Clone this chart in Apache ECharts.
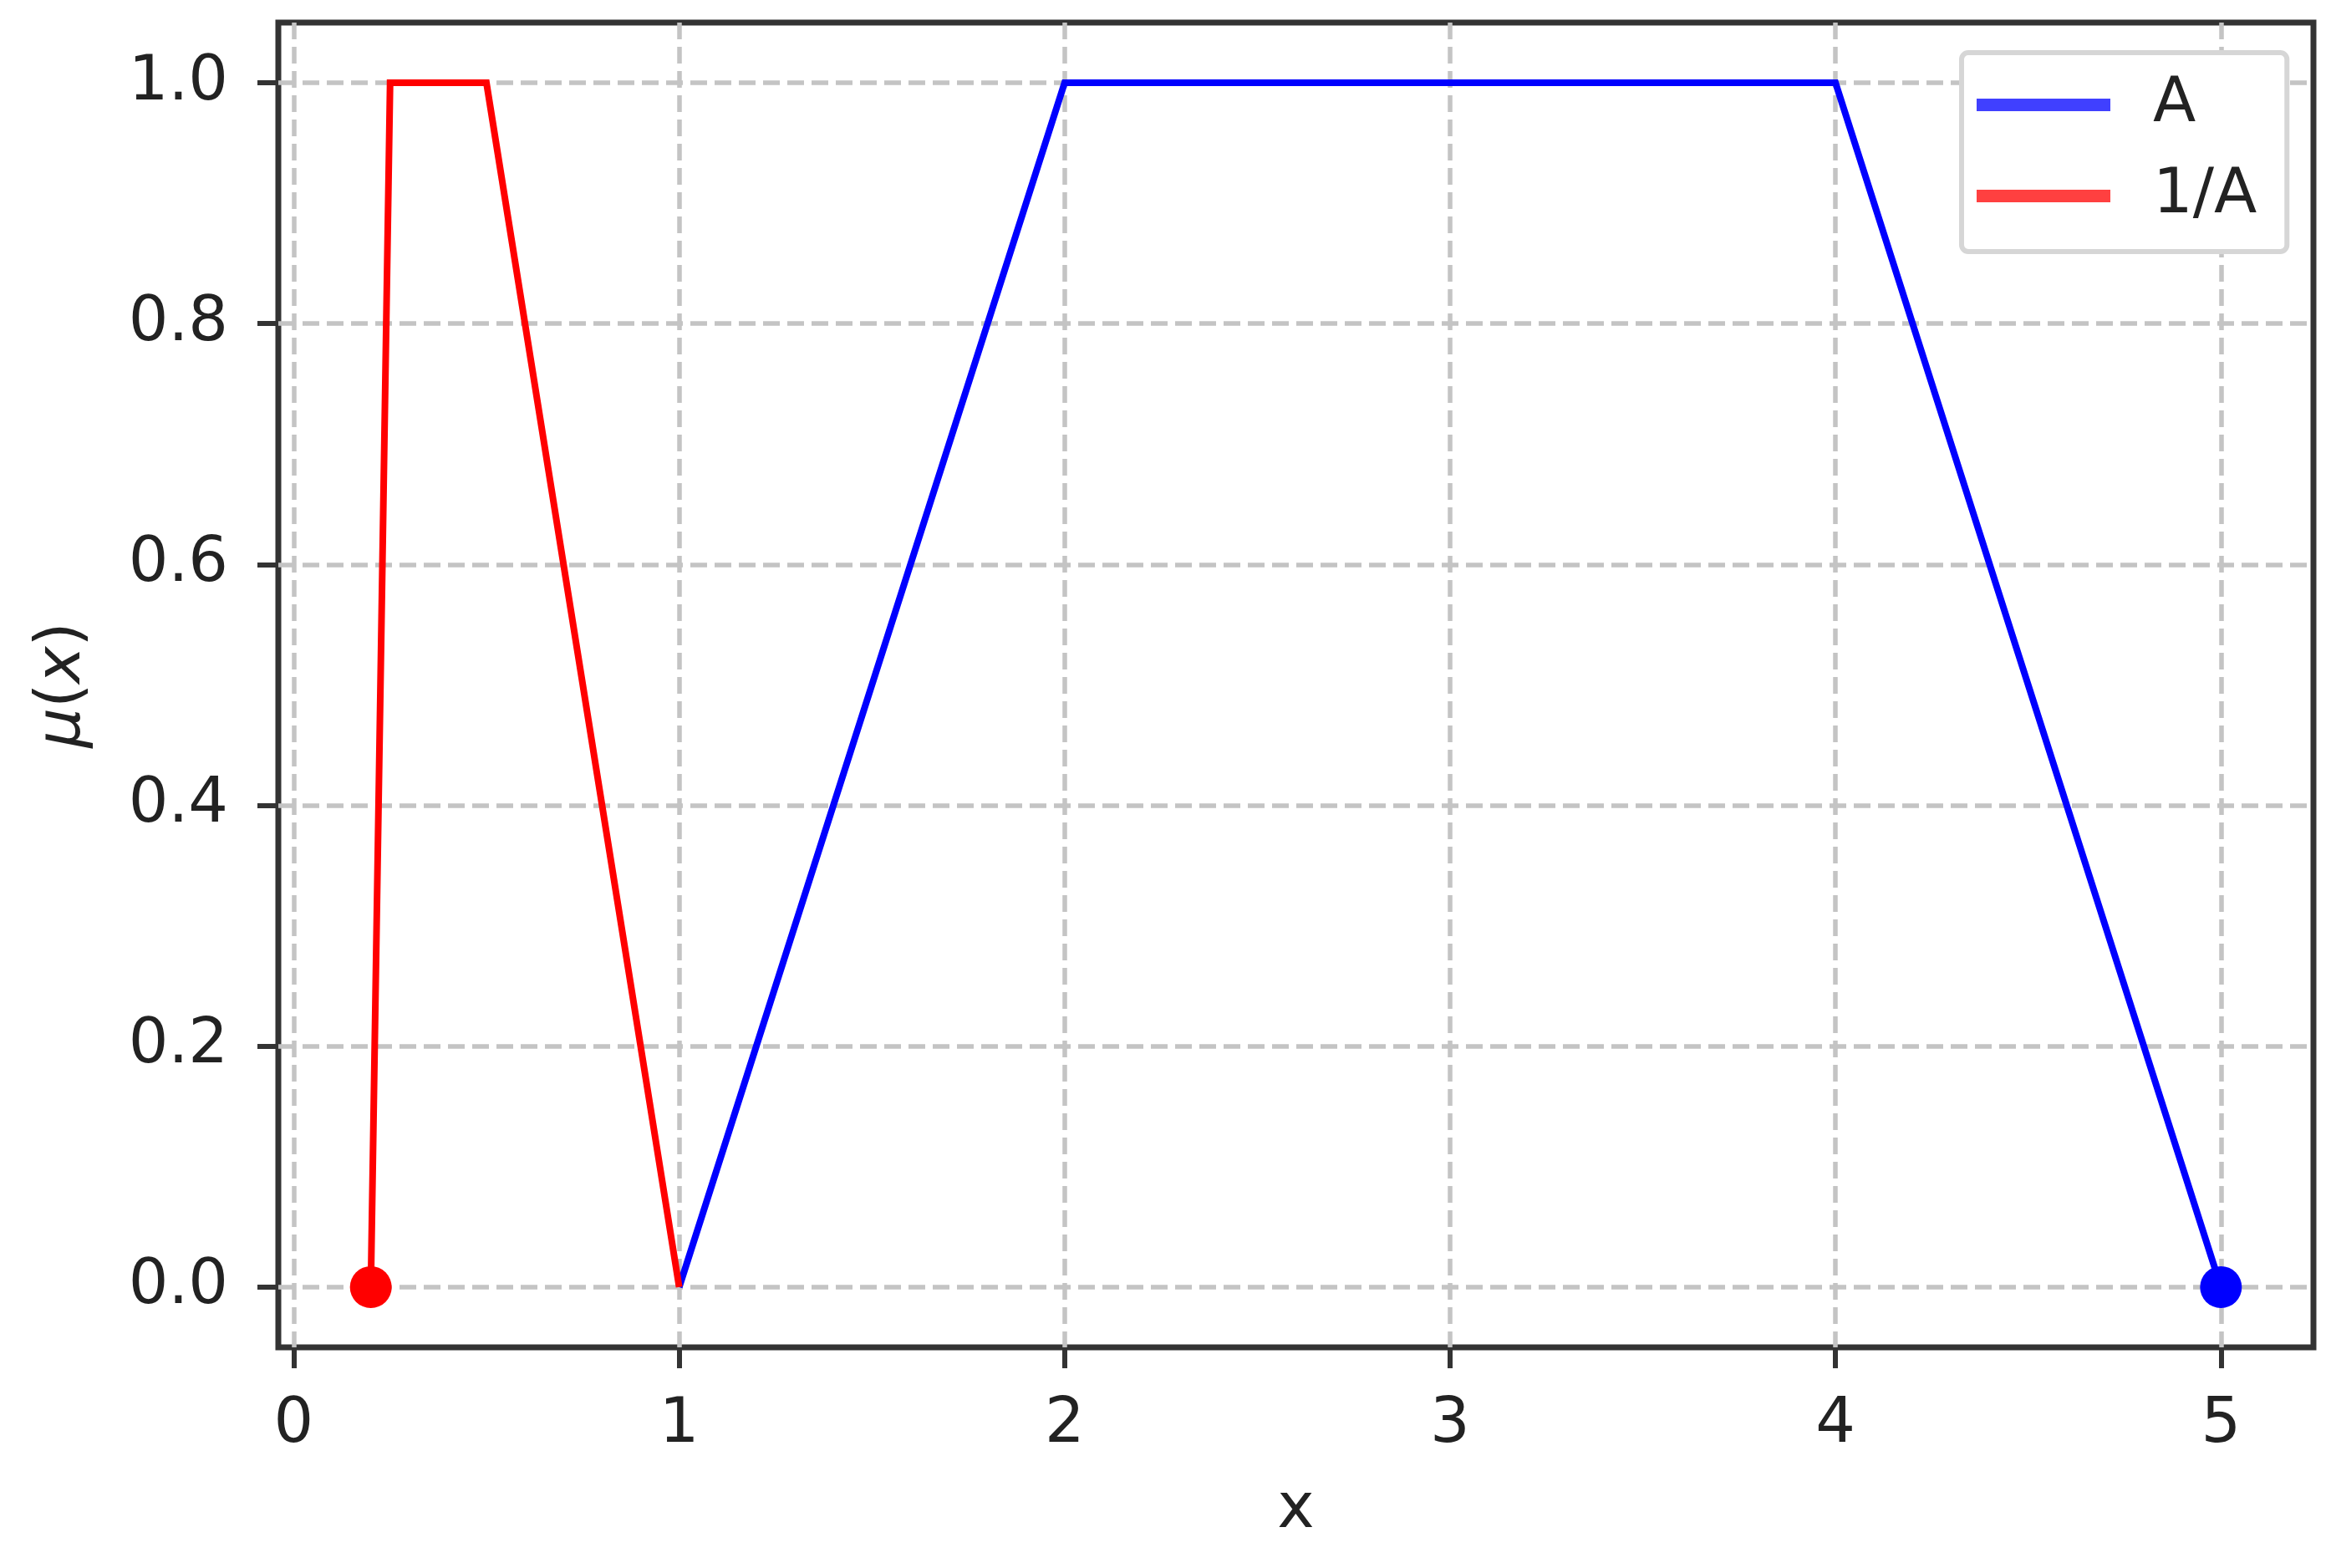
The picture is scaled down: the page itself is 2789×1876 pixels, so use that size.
<!DOCTYPE html>
<html>
<head>
<meta charset="utf-8">
<script src="https://cdn.jsdelivr.net/npm/echarts@6/dist/echarts.min.js"></script>
<style>
  html, body { margin: 0; padding: 0; background: #fff; }
  #chart { width: 2789px; height: 1876px; }
</style>
</head>
<body>
<div id="chart"></div>
<script>
// membership function A (trapezoid) and its inverse 1/A
var xA = [1, 2, 4, 5];
var muA = [0, 1, 1, 0];
var xInvA = [0.2, 0.25, 0.5, 1];
var muInvA = [0, 1, 1, 0];
// end markers
var dotA = [5, 0];
var dotInvA = [0.2, 0];

var xTicks = [0, 1, 2, 3, 4, 5];
var yTicks = [0, 0.2, 0.4, 0.6, 0.8, 1.0];

var FONT = "DejaVu Sans";
var FS = 75;

function pairs(xs, ys) {
  var out = [];
  for (var i = 0; i < xs.length; i++) out.push([xs[i], ys[i]]);
  return out;
}

var chart = echarts.init(document.getElementById("chart"));

var gridLine = { color: "#c4c4c4", width: 5.5, type: [20, 9] };

var option = {
  animation: false,
  textStyle: { fontFamily: FONT, color: "#222" },
  grid: {
    left: 333, top: 27, width: 2435, height: 1585,
    show: true, borderColor: "#333", borderWidth: 7, backgroundColor: "transparent"
  },
  legend: {
    orient: "vertical",
    left: 2347, top: 63,
    padding: [25, 36, 29, 18],
    borderColor: "#d6d6d6", borderWidth: 6, borderRadius: 8,
    backgroundColor: "#fff",
    icon: "rect",
    itemWidth: 160, itemHeight: 15, itemGap: 34,
    textStyle: { fontFamily: FONT, fontSize: FS, color: "#222", padding: [8, 0, 0, 46] },
    data: [
      { name: "A", itemStyle: { color: "#4040ff" } },
      { name: "1/A", itemStyle: { color: "#ff4040" } }
    ]
  },
  xAxis: {
    type: "value",
    min: -0.04, max: 5.24,
    name: "x", nameLocation: "middle", nameGap: 158,
    nameTextStyle: { fontFamily: FONT, fontSize: FS, color: "#222" },
    axisLine: { show: false, onZero: false },
    axisTick: { show: true, length: 25, lineStyle: { color: "#333", width: 6 }, customValues: xTicks },
    axisLabel: { fontFamily: FONT, fontSize: FS, color: "#222", margin: 56, customValues: xTicks,
      formatter: function (v) { return String(v); } },
    splitLine: { show: true, lineStyle: gridLine }
  },
  yAxis: {
    type: "value",
    min: -0.05, max: 1.05,
    name: "{i|μ}({i|x})", nameLocation: "middle", nameGap: 220,
    nameTextStyle: { fontFamily: FONT, fontSize: FS, color: "#222",
      rich: { i: { fontFamily: FONT, fontSize: FS, fontStyle: "italic", color: "#222" } } },
    axisLine: { show: false, onZero: false },
    axisTick: { show: true, length: 25, lineStyle: { color: "#333", width: 6 }, customValues: yTicks },
    axisLabel: { fontFamily: FONT, fontSize: FS, color: "#222", margin: 60, customValues: yTicks,
      formatter: function (v) { return v.toFixed(1); } },
    splitLine: { show: true, lineStyle: gridLine }
  },
  series: [
    {
      name: "A", type: "line", data: pairs(xA, muA),
      showSymbol: false, symbol: "none",
      lineStyle: { color: "#0000ff", width: 8, join: "miter" },
      itemStyle: { color: "#0000ff" }
    },
    {
      name: "1/A", type: "line", data: pairs(xInvA, muInvA),
      showSymbol: false, symbol: "none",
      lineStyle: { color: "#ff0000", width: 8, join: "miter" },
      itemStyle: { color: "#ff0000" }
    },
    {
      name: "dotA", type: "scatter", data: [dotA],
      symbol: "circle", symbolSize: 50, itemStyle: { color: "#0000ff", opacity: 1 }
    },
    {
      name: "dotInvA", type: "scatter", data: [dotInvA],
      symbol: "circle", symbolSize: 50, itemStyle: { color: "#ff0000", opacity: 1 }
    }
  ]
};

chart.setOption(option);
</script>
</body>
</html>
